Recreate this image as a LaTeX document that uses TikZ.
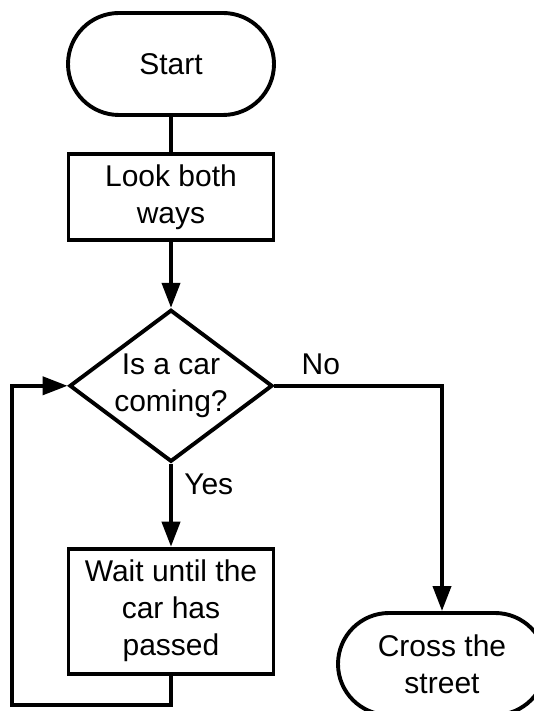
\documentclass[tikz,border=0pt]{standalone}
\usepackage{fontspec}
\setmainfont{Liberation Sans}
\usepackage{tikz}
\usetikzlibrary{positioning,arrows.meta,shapes.misc,shapes.geometric}

\begin{document}
\begin{tikzpicture}[
  x=1pt,y=1pt,
  font=\fontsize{30}{37}\selectfont,
  line width=3.9pt,
  term/.style={draw,rounded rectangle,minimum width=206pt,minimum height=102pt,align=center,inner sep=0pt},
  proc/.style={draw,rectangle,minimum width=205pt,align=center,inner sep=0pt},
  dec/.style={draw,diamond,aspect=1.33,minimum width=203pt,minimum height=152pt,inner sep=0pt,align=center},
  ar/.style={-{Triangle[length=25pt,width=18pt]}},
  node distance=35pt,
]
\useasboundingbox (0,0) rectangle (534,711);
\node[term] (start) at (171,647) {Start};
\node[proc,minimum height=86pt,below=of start] (look) {Look both\\ways};
\node[dec,below=66pt of look] (coming) {Is a car\\coming?};
\node[proc,minimum height=125pt,below=83pt of coming] (wait) {Wait until the\\car has\\passed};
\node[term,minimum width=208pt] (cross) at (442,47) {Cross the\\street};
\draw (start)--(look);
\draw[ar] (look)--(coming);
\draw[ar] (coming)--(wait) node[pos=0.25,right=8pt] (yes) {Yes};
\draw[ar] (coming.east) -| (cross.north);
\node[above right=6pt and 22pt of coming.east] (no) {No};
\draw[ar] (wait.south) -- ++(0,-29) -| ([xshift=-56pt]coming.west) -- (coming.west);
\end{tikzpicture}
\end{document}
